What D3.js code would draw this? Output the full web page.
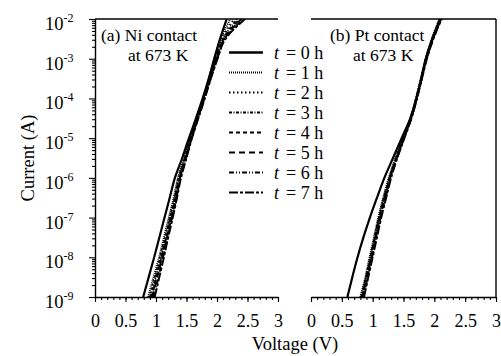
<!DOCTYPE html>
<html>
<head>
<meta charset="utf-8">
<script src="https://cdn.jsdelivr.net/npm/d3@7"></script>
<style>
  body { margin: 0; background: #fff; }
  #chart, #chart text, #chart tspan { font-family: "Liberation Serif", "Times New Roman", Times, "DejaVu Serif", serif !important; fill: #000; }
</style>
</head>
<body>
<svg id="chart" width="501" height="356"></svg>
<script>
// I-V curves of Ni and Pt contacts at 673 K, log current vs voltage.
// Rows are log10(I) levels; each series lists the voltage reached at that level.
const logCurrent = [-9, -8.5, -8, -7.5, -7, -6.5, -6, -5.5, -5, -4.5, -4, -3.5, -3, -2.5, -2];
const hours = [0, 1, 2, 3, 4, 5, 6, 7];

const niVolts = [
  [0.79, 0.88, 0.97, 1.055, 1.14, 1.225, 1.31, 1.43, 1.54, 1.655, 1.765, 1.865, 1.955, 2.05, 2.16],
  [0.87, 0.96, 1.05, 1.13, 1.21, 1.29, 1.36, 1.46, 1.56, 1.665, 1.77, 1.865, 1.955, 2.06, 2.22],
  [0.89, 0.98, 1.065, 1.145, 1.225, 1.30, 1.37, 1.47, 1.565, 1.67, 1.775, 1.87, 1.965, 2.08, 2.28],
  [0.91, 0.995, 1.08, 1.16, 1.235, 1.31, 1.38, 1.475, 1.57, 1.675, 1.78, 1.875, 1.975, 2.10, 2.33],
  [0.93, 1.01, 1.09, 1.17, 1.245, 1.32, 1.39, 1.48, 1.575, 1.68, 1.785, 1.88, 1.985, 2.11, 2.37],
  [0.94, 1.02, 1.10, 1.18, 1.255, 1.33, 1.395, 1.49, 1.58, 1.685, 1.79, 1.89, 1.995, 2.12, 2.40],
  [0.96, 1.04, 1.115, 1.19, 1.265, 1.335, 1.40, 1.495, 1.585, 1.69, 1.795, 1.895, 2.005, 2.13, 2.43],
  [0.98, 1.055, 1.13, 1.20, 1.275, 1.345, 1.41, 1.50, 1.59, 1.695, 1.80, 1.90, 2.01, 2.14, 2.46]
];

const ptVolts = [
  [0.59, 0.67, 0.755, 0.85, 0.955, 1.07, 1.19, 1.33, 1.47, 1.61, 1.71, 1.79, 1.86, 1.965, 2.10],
  [0.80, 0.88, 0.95, 1.02, 1.09, 1.17, 1.26, 1.37, 1.49, 1.61, 1.70, 1.78, 1.86, 1.96, 2.08],
  [0.81, 0.89, 0.96, 1.03, 1.10, 1.18, 1.27, 1.375, 1.495, 1.615, 1.705, 1.785, 1.865, 1.965, 2.09],
  [0.82, 0.895, 0.965, 1.035, 1.105, 1.185, 1.275, 1.38, 1.50, 1.615, 1.705, 1.785, 1.865, 1.97, 2.09],
  [0.83, 0.90, 0.97, 1.04, 1.11, 1.19, 1.28, 1.385, 1.50, 1.62, 1.71, 1.79, 1.87, 1.975, 2.10],
  [0.84, 0.91, 0.98, 1.05, 1.12, 1.20, 1.285, 1.39, 1.505, 1.625, 1.715, 1.795, 1.875, 1.98, 2.11],
  [0.85, 0.92, 0.99, 1.06, 1.13, 1.21, 1.29, 1.395, 1.51, 1.625, 1.715, 1.795, 1.875, 1.98, 2.11],
  [0.86, 0.93, 1.00, 1.07, 1.14, 1.22, 1.30, 1.40, 1.515, 1.63, 1.72, 1.80, 1.88, 1.985, 2.12]
];

const xMajor = [0, 0.5, 1, 1.5, 2, 2.5, 3];
const yExponents = [-2, -3, -4, -5, -6, -7, -8, -9];

// Line styles per hour, t = 0 is the thick solid line.
const dashes = ['none', '1 1', '1.5 2.5', '3 1.5 1 1.5', '4 3', '6 4', '5 2 1 2 1 2', '9 2 3 2'];

const svg = d3.select('#chart');
const plotTop = 19, plotBottom = 297;
const y = d3.scaleLog().domain([1e-9, 1e-2]).range([plotBottom, plotTop]);

function drawPanel(x0, x1, volts, id, rightBorder) {
  const x = d3.scaleLinear().domain([0, 3]).range([x0, x1]);
  const g = svg.append('g');

  g.append('clipPath').attr('id', id).append('rect')
    .attr('x', x0).attr('y', plotTop).attr('width', x1 - x0).attr('height', plotBottom - plotTop);

  // minor ticks every 0.1 V, majors every 0.5 V
  const minors = d3.range(0, 31).map(i => i / 10);
  g.append('g').attr('transform', `translate(0,${plotBottom})`)
    .call(d3.axisBottom(x).tickValues(minors).tickSize(3).tickFormat(''))
    .call(a => a.select('.domain').remove());
  g.append('g').attr('transform', `translate(0,${plotBottom})`)
    .call(d3.axisBottom(x).tickValues(xMajor).tickSize(5).tickSizeOuter(0)
      .tickFormat(d => d3.format('')(d)))
    .call(a => a.select('.domain').attr('stroke-width', 1.4))
    .call(a => a.selectAll('text').attr('y', 30).attr('dy', 0).style('font-size', '18px'));
  g.selectAll('.tick line').attr('stroke-width', 1.1);

  g.append('line').attr('x1', x0).attr('x2', x1).attr('y1', plotTop).attr('y2', plotTop)
    .attr('stroke', '#000').attr('stroke-width', 1.4);
  if (rightBorder) {
    g.append('line').attr('x1', x1).attr('x2', x1).attr('y1', plotTop).attr('y2', plotBottom)
      .attr('stroke', '#000').attr('stroke-width', 1.4);
  }

  const line = d3.line()
    .x(d => x(d[0]))
    .y(d => y(Math.pow(10, d[1])))
    .curve(d3.curveMonotoneY);

  g.append('g').attr('clip-path', `url(#${id})`)
    .selectAll('path').data(volts).enter().append('path')
    .attr('d', v => line(v.map((vv, i) => [vv, logCurrent[i]])))
    .attr('fill', 'none').attr('stroke', '#000')
    .attr('stroke-width', (d, i) => i === 0 ? 2.2 : 1.9)
    .attr('stroke-dasharray', (d, i) => dashes[i]);
  return x;
}

drawPanel(95, 278, niVolts, 'clipNi', false);
drawPanel(311, 496, ptVolts, 'clipPt', true);

// Left log axis with minor ticks 2..9 per decade
const yMinor = [];
for (let e = -9; e < -2; e++) for (let m = 2; m <= 9; m++) yMinor.push(m * Math.pow(10, e));
const yAx = svg.append('g').attr('transform', 'translate(95,0)');
yAx.append('g').call(d3.axisLeft(y).tickValues(yMinor).tickSize(3).tickFormat(''))
  .call(a => a.select('.domain').remove());
yAx.append('g').call(d3.axisLeft(y).tickValues(yExponents.map(e => Math.pow(10, e))).tickSize(6).tickSizeOuter(0).tickFormat(''))
  .call(a => a.select('.domain').attr('stroke-width', 1.4));
yAx.selectAll('.tick line').attr('stroke-width', 1.1);

const yLab = svg.append('g').selectAll('text').data(yExponents).enter().append('text')
  .attr('x', 45).attr('y', e => y(Math.pow(10, e)) + 11).style('font-size', '18.5px');
yLab.append('tspan').text('10');
yLab.append('tspan').attr('dy', -8).style('font-size', '12px').text(e => '-' + Math.abs(e));

// Axis titles
svg.append('text').attr('x', 295).attr('y', 350).attr('text-anchor', 'middle')
  .style('font-size', '18.5px').text('Voltage (V)');
svg.append('text').attr('transform', 'translate(34,158) rotate(-90)').attr('text-anchor', 'middle')
  .style('font-size', '18.5px').text('Current (A)');

// Panel annotations
svg.append('text').attr('x', 101).attr('y', 41).style('font-size', '17.5px').text('(a) Ni contact');
svg.append('text').attr('x', 128).attr('y', 61).style('font-size', '17.5px').text('at 673 K');
svg.append('text').attr('x', 330).attr('y', 41).style('font-size', '17.5px').text('(b) Pt contact');
svg.append('text').attr('x', 353).attr('y', 61).style('font-size', '17.5px').text('at 673 K');

// Legend
const leg = svg.append('g').selectAll('g').data(hours).enter().append('g')
  .attr('transform', (d, i) => `translate(0,${52.5 + i * 20})`);
leg.append('rect').attr('x', 226).attr('y', -8).attr('width', 100).attr('height', 17).attr('fill', '#fff');
leg.append('line').attr('x1', 229).attr('x2', 263).attr('y1', 0).attr('y2', 0)
  .attr('stroke', '#000').attr('stroke-width', (d, i) => i === 0 ? 2.4 : 1.9)
  .attr('stroke-dasharray', (d, i) => dashes[i]);
const lt = leg.append('text').attr('y', 6).style('font-size', '18px');
lt.append('tspan').attr('x', 274).style('font-style', 'italic').text('t');
lt.append('tspan').attr('x', 286).text(d => `= ${d} h`);
</script>
</body>
</html>
